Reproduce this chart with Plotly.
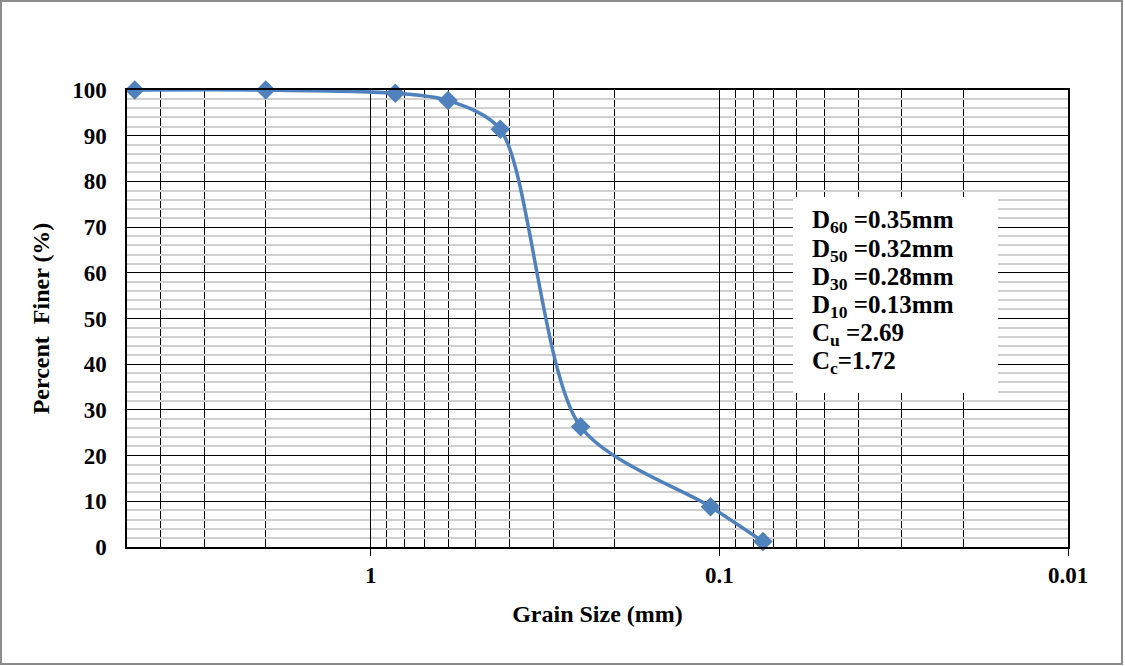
import plotly.graph_objects as go

grain_size = [4.75, 2.0, 0.85, 0.6, 0.425, 0.25, 0.106, 0.075]
percent_finer = [100, 100, 99.3, 97.7, 91.4, 26.3, 8.8, 1.2]

major_ticks = [1, 0.1, 0.01]
major_labels = ["1", "0.1", "0.01"]
minor_ticks = [5, 4, 3, 2, 0.9, 0.8, 0.7, 0.6, 0.5, 0.4, 0.3, 0.2,
               0.09, 0.08, 0.07, 0.06, 0.05, 0.04, 0.03, 0.02]

info_lines = ["D<sub>60</sub> =0.35mm", "D<sub>50</sub> =0.32mm", "D<sub>30</sub> =0.28mm",
              "D<sub>10</sub> =0.13mm", "C<sub>u</sub> =2.69", "C<sub>c</sub>=1.72"]

W, H = 1125, 666
L, R, T, B = 127, 1068, 90, 547
pw, ph = R - L, B - T

def px(xp):
    return (xp - L) / pw

def py(yp):
    return (B - yp) / ph

FONT = "Liberation Serif"
BLUE = "#4F81BD"

fig = go.Figure()
fig.add_trace(go.Scatter(
    x=grain_size, y=percent_finer, mode="lines+markers",
    line=dict(color=BLUE, width=3.5, shape="spline", smoothing=0.8),
    marker=dict(symbol="diamond", size=15, color=BLUE),
    showlegend=False, cliponaxis=False,
))

fig.update_layout(
    width=W, height=H,
    margin=dict(l=L, r=W - R, t=T, b=H - B),
    paper_bgcolor="white", plot_bgcolor="white",
    font=dict(family=FONT, color="black", size=22),
    xaxis=dict(
        type="log", range=[0.69897, -2], autorange=False,
        tickvals=major_ticks, ticktext=major_labels,
        ticks="outside", ticklen=7, tickcolor="black", tickwidth=1,
        showgrid=True, gridcolor="black", gridwidth=1,
        minor=dict(tickvals=minor_ticks, showgrid=True, gridcolor="black", gridwidth=1,
                   griddash="solid", ticks=""),
        showline=True, linecolor="black", linewidth=1.5, mirror=True,
        tickfont=dict(size=23, family=FONT, weight="bold", color="black"),
        title=dict(text="<b>Grain Size (mm)</b>", font=dict(size=24, family=FONT, color="black"), standoff=18),
        zeroline=False,
    ),
    yaxis=dict(
        range=[0, 100], autorange=False, dtick=10, tick0=0,
        showgrid=True, gridcolor="black", gridwidth=1,
        minor=dict(dtick=2, showgrid=True, gridcolor="#d0d0d0", gridwidth=2,
                   griddash="solid", ticks=""),
        showline=True, linecolor="black", linewidth=1.5, mirror=True,
        ticks="", ticklabelstandoff=14,
        tickfont=dict(size=23, family=FONT, weight="bold", color="black"),
        title=dict(text="<b>Percent  Finer (%)</b>", font=dict(size=24, family=FONT, color="black"), standoff=16),
        zeroline=False,
    ),
)

# white info box
fig.add_shape(type="rect", xref="paper", yref="paper",
              x0=px(793), x1=px(998), y0=py(393), y1=py(197),
              fillcolor="white", line=dict(width=0), layer="above")

for i, t in enumerate(info_lines):
    fig.add_annotation(xref="paper", yref="paper", x=px(810), y=py(222 + i * 28),
                       xanchor="left", yanchor="middle", showarrow=False,
                       text="<b>" + t + "</b>", font=dict(size=25, family=FONT, color="black"))

# outer chart border
fig.add_shape(type="rect", xref="paper", yref="paper",
              x0=px(1), x1=px(1122), y0=py(664), y1=py(1),
              line=dict(color="#8c8c8c", width=2), fillcolor="rgba(0,0,0,0)", layer="below")

fig.write_html("out.html")
